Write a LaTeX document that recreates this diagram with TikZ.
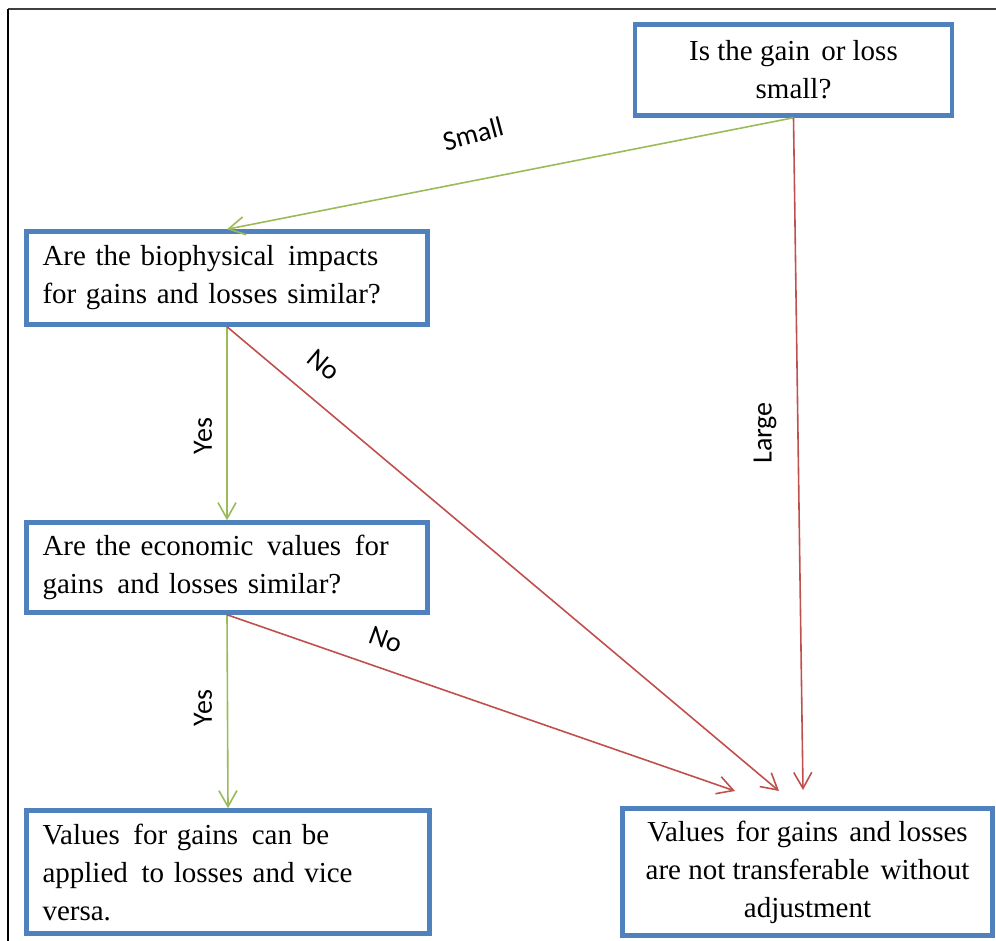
\documentclass[tikz,border=0pt]{standalone}
\usepackage{fontspec}
\setmainfont{Liberation Serif}
\newfontfamily\lblfont{Carlito}
\usetikzlibrary{arrows.meta}

\definecolor{boxblue}{HTML}{4F81BD}
\definecolor{yesgreen}{HTML}{9BBB59}
\definecolor{nored}{HTML}{C0504D}

% wider gap between some words, as in the original
\newcommand{\wgap}{\hspace{4pt}}

\begin{document}
\begin{tikzpicture}[x=1pt,y=-1pt,
    box/.style={draw=boxblue,line width=4.5pt,inner xsep=16pt,inner ysep=2pt,font=\fontsize{29}{38}\selectfont},
    yesline/.style={draw=yesgreen,line width=1.6pt,-{Straight Barb[length=16pt,width=18pt]}},
    noline/.style={draw=nored,line width=1.6pt,-{Straight Barb[length=16pt,width=18pt]}},
    lbl/.style={inner sep=0pt,font=\lblfont\fontsize{28}{30}\selectfont}]

    % page size
    \useasboundingbox (0,0) rectangle (996,941);

    % frame (top and left only)
    \draw [black!75, line width=1.5pt] (996,9) -- (8,9);
    \draw [black, line width=1.5pt] (8,9) -- (8,941);

    % question and answer boxes
    \node[box, align=center, minimum width=317pt, minimum height=91pt] (size) at (793.5,70)
        {Is the gain \wgap or loss\\ small?};
    \node[box, text width=369pt, align=left, minimum height=93pt] (bio) at (227,278)
        {Are the biophysical \wgap impacts\\ for gains and losses similar?};
    \node[box, text width=369pt, align=left, minimum height=90pt] (econ) at (227,567.5)
        {Are the economic \wgap values \wgap for\\ gains \wgap and losses similar?};
    \node[box, text width=371pt, align=left, minimum height=123pt] (apply) at (228,872)
        {Values \wgap for gains \wgap can be\\ applied \wgap to losses and vice\\ versa.};
    \node[box, align=center, minimum width=370pt, minimum height=127pt] (notrans) at (807.5,872)
        {Values \wgap for gains \wgap and losses\\ are not transferable \wgap without\\ adjustment};

    % loose ends of the red arrows
    \coordinate (endEcon) at (735,791);
    \coordinate (endBio) at (779,791);
    \coordinate (endSize) at (803,790);

    % connectors
    \draw [yesline] (size.south) -- (bio.north);
    \draw [noline] (size.south) -- (endSize);
    \draw [yesline] (bio.south) -- (econ.north);
    \draw [noline] (bio.south) -- (endBio);
    \draw [yesline] (econ.south) -- (apply.north);
    \draw [noline] (econ.south) -- (endEcon);

    % answer labels
    \node[lbl, rotate=15] (small) at (473,134) {Small};
    \node[lbl, rotate=90] (large) at (765,433) {Large};
    \node[lbl, rotate=90] (yesBio) at (203,436) {Yes};
    \node[lbl, rotate=-40] (noBio) at (324,365) {No};
    \node[lbl, rotate=90] (yesEcon) at (203,708) {Yes};
    \node[lbl, rotate=-20] (noEcon) at (386,640) {No};

\end{tikzpicture}
\end{document}
